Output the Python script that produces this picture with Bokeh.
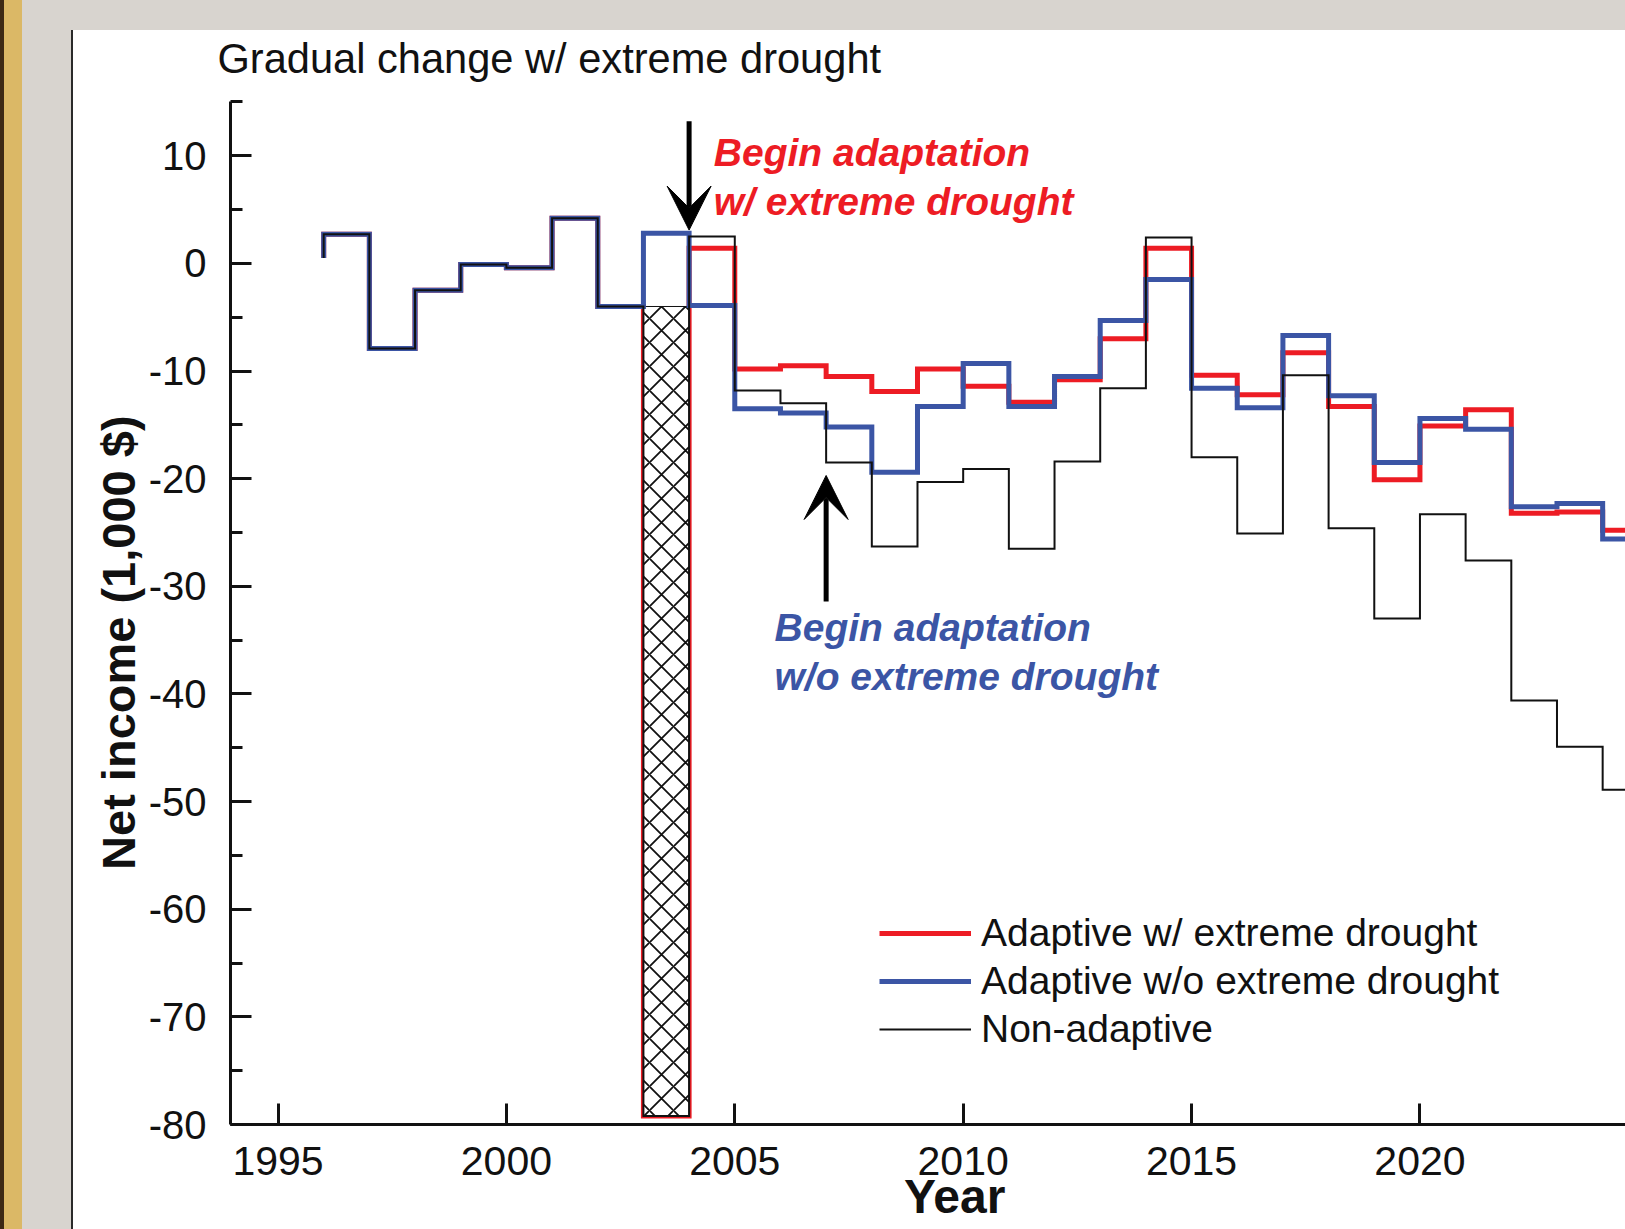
from bokeh.plotting import figure
from bokeh.models import (Range1d, SingleIntervalTicker, Legend, LegendItem, Arrow,
                          VeeHead, Spacer, Title, PrintfTickFormatter)
from bokeh.layouts import row, column
from bokeh.core.properties import value
from bokeh.embed import file_html
from bokeh.resources import INLINE

# ---------------- data (net income, 1,000 $; value of the year ending at x) -------------
years = list(range(1996, 2026))
adaptive_drought = [0.5, 2.7, -7.9, -2.5, -0.1, -0.4, 4.2, -4.0, -79.2,
                    1.4, -9.8, -9.5, -10.5, -11.9, -9.8, -11.4, -12.9, -10.8, -7.0,
                    1.4, -10.4, -12.2, -8.3, -13.3, -20.1, -15.1, -13.6, -23.2, -23.1, -24.8]
adaptive_no_drought = [0.5, 2.7, -7.9, -2.5, -0.1, -0.4, 4.2, -4.0, 2.8,
                       -3.9, -13.5, -13.9, -15.2, -19.4, -13.3, -9.3, -13.3, -10.5, -5.3,
                       -1.5, -11.6, -13.4, -6.7, -12.3, -18.5, -14.4, -15.4, -22.6, -22.3, -25.6]
non_adaptive = [0.5, 2.7, -7.9, -2.5, -0.1, -0.4, 4.2, -4.0, -79.2,
                2.5, -11.8, -13.0, -18.5, -26.3, -20.3, -19.1, -26.5, -18.4, -11.6,
                2.4, -18.0, -25.1, -10.4, -24.6, -33.0, -23.3, -27.6, -40.6, -44.9, -48.9]
series_labels = ["Adaptive w/ extreme drought", "Adaptive w/o extreme drought", "Non-adaptive"]

drought_years = [2003, 2004]          # extreme drought year (hatched column)
x_tick_values = [1995, 2000, 2005, 2010, 2015, 2020, 2025]
y_tick_values = [-80, -70, -60, -50, -40, -30, -20, -10, 0, 10]
y_axis_extent = (-80, 15.02)

# annotation anchors (data units)
arrow_red = dict(x=2004, y_start=13.2, y_end=3.1)
arrow_blue = dict(x=2007, y_start=-31.4, y_end=-19.7)
red_note = dict(x=2004.54, y=[10.3, 5.75], text=["Begin adaptation", "w/ extreme drought"])
blue_note = dict(x=2005.87, y=[-33.85, -38.35], text=["Begin adaptation", "w/o extreme drought"])

# ---------------- styling ----------------
RED = "#ed1c24"
BLUE = "#3b55a5"
INK = "#111111"
FONT = "Liberation Sans"
NBSP = "\u00a0"

fig = figure(width=1552, height=1199,
             x_range=Range1d(1993.96, 2024.5), y_range=Range1d(-80, 16.81),
             output_backend="svg", toolbar_location=None,
             min_border_left=157, min_border_right=0, min_border_top=52, min_border_bottom=105)
fig.background_fill_color = "white"
fig.border_fill_color = "white"
fig.outline_line_color = None
fig.xgrid.visible = False
fig.ygrid.visible = False

fig.title = Title(text="Gradual change w/ extreme drought", align="left", offset=-13,
                  vertical_align="bottom",
                  text_font=FONT, text_font_size="41.6px", text_font_style="normal",
                  text_color=INK, standoff=2)

i03 = years.index(drought_years[0])
i04 = years.index(drought_years[1])

r_red = fig.step(years, adaptive_drought, mode="before", line_color=RED, line_width=5,
                 line_join="miter")
fig.quad(left=[drought_years[0]], right=[drought_years[1]],
         bottom=[adaptive_drought[i04]], top=[non_adaptive[i03]],
         fill_color="white", line_color=INK, line_width=1,
         hatch_pattern="x", hatch_color=INK, hatch_weight=1.8, hatch_scale=24)
r_blue = fig.step(years, adaptive_no_drought, mode="before", line_color=BLUE, line_width=5,
                  line_join="miter")
r_black = fig.step(years, non_adaptive, mode="before", line_color=INK, line_width=2,
                   line_join="miter")

for a in (arrow_red, arrow_blue):
    fig.add_layout(Arrow(end=VeeHead(size=44, fill_color="black", line_color="black", line_width=1),
                         x_start=a["x"], y_start=a["y_start"], x_end=a["x"], y_end=a["y_end"],
                         line_width=5, line_color="black"))

fig.text(x=[red_note["x"]] * 2, y=red_note["y"], text=red_note["text"],
         text_font=value(FONT), text_font_style="bold italic", text_font_size="39px",
         text_color=RED, text_align="left", text_baseline="alphabetic")
fig.text(x=[blue_note["x"]] * 2, y=blue_note["y"], text=blue_note["text"],
         text_font=value(FONT), text_font_style="bold italic", text_font_size="39px",
         text_color=BLUE, text_align="left", text_baseline="alphabetic")

# axes
fig.xaxis.ticker = SingleIntervalTicker(interval=5, num_minor_ticks=0)
fig.yaxis.ticker = SingleIntervalTicker(interval=10, num_minor_ticks=2)
fig.yaxis.bounds = y_axis_extent
for ax in (fig.xaxis, fig.yaxis):
    ax.formatter = PrintfTickFormatter(format="%d")
    ax.axis_line_width = 3
    ax.axis_line_color = INK
    ax.major_tick_line_width = 3
    ax.major_tick_line_color = INK
    ax.minor_tick_line_width = 3
    ax.minor_tick_line_color = INK
    ax.major_tick_in = 21
    ax.major_tick_out = 0
    ax.minor_tick_in = 12
    ax.minor_tick_out = 0
    ax.major_label_text_font = FONT
    ax.major_label_text_color = INK
    ax.axis_label_text_font = FONT
    ax.axis_label_text_font_style = "bold"
    ax.axis_label_text_color = INK

fig.xaxis.major_label_text_font_size = "41px"
fig.yaxis.major_label_text_font_size = "40px"
fig.xaxis.axis_label = NBSP * 4 + "Year"
fig.xaxis.axis_label_text_font_size = "48px"
fig.xaxis.major_label_standoff = 22
fig.xaxis.axis_label_standoff = -8
fig.yaxis.axis_label = "Net income (1,000 $)" + NBSP * 6
fig.yaxis.axis_label_text_font_size = "47px"
fig.yaxis.major_label_standoff = 24
fig.yaxis.axis_label_standoff = 1

legend = Legend(items=[LegendItem(label=series_labels[0], renderers=[r_red]),
                       LegendItem(label=series_labels[1], renderers=[r_blue]),
                       LegendItem(label=series_labels[2], renderers=[r_black])],
                location=(649, 73), orientation="vertical",
                glyph_width=92, glyph_height=44, label_height=44, spacing=4,
                padding=0, margin=0, label_standoff=10,
                border_line_color=None, background_fill_alpha=0,
                label_text_font=FONT, label_text_font_size="39px", label_text_color=INK)
fig.add_layout(legend)


def bg(c):
    return {"background-color": c}


p = row(
    Spacer(width=4, height=1229, styles=bg("#3d2914")),
    Spacer(width=18, height=1229, styles=bg("#dbb866")),
    column(
        Spacer(width=1603, height=30, styles=bg("#d8d4cf")),
        row(Spacer(width=49, height=1199, styles=bg("#d8d4cf")),
            Spacer(width=2, height=1199, styles=bg("#2a2a2a")),
            fig),
    ),
)

open("out.html", "w").write(file_html(p, INLINE))
